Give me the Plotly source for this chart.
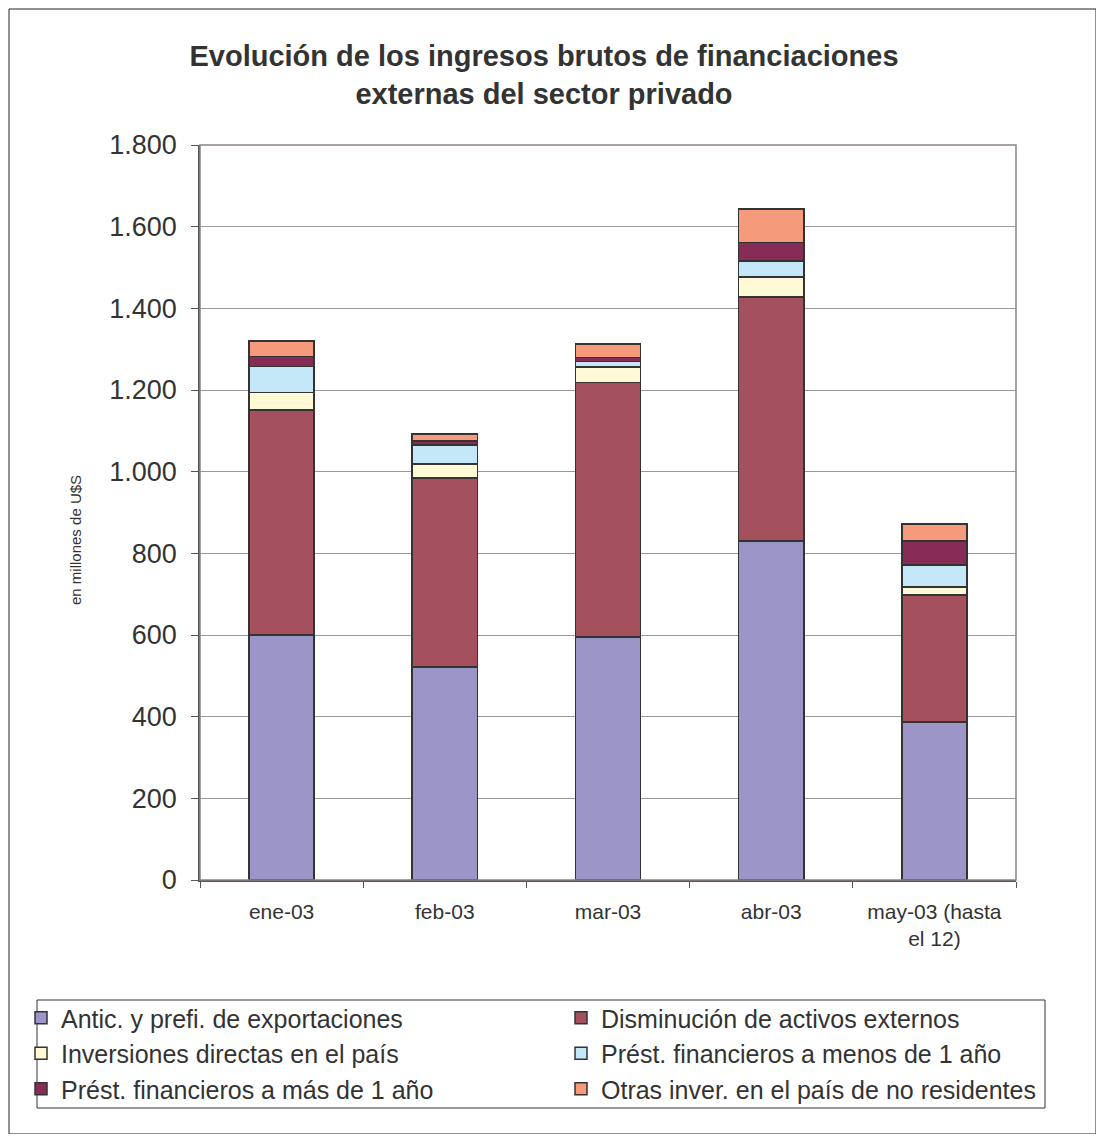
import plotly.graph_objects as go

categories = ["ene-03", "feb-03", "mar-03", "abr-03", "may-03 (hasta<br>el 12)"]
series_names = [
    "Antic. y prefi. de exportaciones",
    "Disminución de activos externos",
    "Inversiones directas en el país",
    "Prést. financieros a menos de 1 año",
    "Prést. financieros a más de 1 año",
    "Otras inver. en el país de no residentes",
]
antic = [600, 522, 595, 830, 387]
disminucion = [551, 463, 623, 598, 311]
inversiones = [43, 34, 38, 49, 20]
prest_menos = [63, 46, 14, 39, 53]
prest_mas = [25, 10, 10, 45, 59]
otras = [38, 17, 33, 82, 42]
colors = ["#9c95c8", "#a5505d", "#fff9d5", "#c5e8f8", "#872c57", "#f59a7b"]
legend_column = ["legend", "legend2", "legend", "legend2", "legend", "legend2"]
y_ticks = [0, 200, 400, 600, 800, 1000, 1200, 1400, 1600, 1800]
y_title = "en millones de U$S"

series = [antic, disminucion, inversiones, prest_menos, prest_mas, otras]

# page has an 8px body margin; figure is sized so that it fills the window
OFF = 8
W, H = 1104 - OFF, 1142 - 2 * OFF
L, R, T, B = 200, 1016, 145, 880          # plot area in reference pixels
pw, ph = R - L, B - T

def px_x(x):
    return (x - L) / pw

def px_y(y):
    return (B - y) / ph

FONT = "Liberation Sans, Arial, sans-serif"
TXT = "#333333"

fig = go.Figure()
for name, vals, col, lg in zip(series_names, series, colors, legend_column):
    fig.add_trace(go.Bar(
        x=categories, y=vals, name=name, legend=lg,
        marker=dict(color=col, line=dict(color="#333333", width=1.5)),
    ))

legend_common = dict(
    orientation="v", xanchor="left", yanchor="top",
    font=dict(size=25, color=TXT, family=FONT),
    bgcolor="rgba(0,0,0,0)", borderwidth=0,
    traceorder="normal", itemwidth=30, tracegroupgap=0,
)

fig.update_layout(
    width=W, height=H,
    margin=dict(l=L - OFF, r=W - (R - OFF), t=T - OFF, b=H - (B - OFF), pad=0,
                autoexpand=False),
    barmode="stack", bargap=0.6,
    paper_bgcolor="white", plot_bgcolor="white",
    separators=",.",
    font=dict(family=FONT, color=TXT),
    title=dict(
        text="Evolución de los ingresos brutos de financiaciones<br>externas del sector privado",
        x=(544 - OFF) / W, xref="container", xanchor="center",
        y=1 - (66 - OFF) / H, yanchor="top",
        font=dict(size=29, color=TXT, family=FONT, weight="bold"),
    ),
    xaxis=dict(
        showline=True, linecolor="#555555", linewidth=1.5,
        ticks="outside", tickson="boundaries", ticklen=6, tickcolor="#555555",
        tickfont=dict(size=21, color=TXT), ticklabelstandoff=12,
        mirror=False, automargin=False,
    ),
    yaxis=dict(
        range=[0, 1800], tickvals=y_ticks, tickformat=",.0f",
        showline=True, linecolor="#555555", linewidth=1.5,
        ticks="outside", ticklen=7, tickcolor="#555555",
        tickfont=dict(size=27, color=TXT), ticklabelstandoff=9,
        showgrid=True, gridcolor="#999999", gridwidth=1,
        zeroline=False, automargin=False,
    ),
    annotations=[
        dict(text=y_title, textangle=-90, xref="paper", yref="paper",
             x=px_x(75), y=px_y(540), xanchor="center", yanchor="middle",
             showarrow=False, font=dict(size=15, color=TXT, family=FONT)),
    ],
    legend=dict(x=px_x(21), y=px_y(995), **legend_common),
    legend2=dict(x=px_x(561), y=px_y(995), **legend_common),
    shapes=[
        dict(type="rect", xref="paper", yref="paper", x0=0, x1=1, y0=0, y1=1,
             line=dict(color="#8f8282", width=1.5), layer="above"),
        dict(type="rect", xref="paper", yref="paper",
             x0=px_x(37), x1=px_x(1045), y0=px_y(1000), y1=px_y(1108),
             line=dict(color="#333333", width=1)),
        dict(type="rect", xref="paper", yref="paper",
             x0=px_x(9), x1=px_x(1096), y0=px_y(9), y1=px_y(1134),
             line=dict(color="#222222", width=1)),
    ],
)

fig.write_html("out.html")
